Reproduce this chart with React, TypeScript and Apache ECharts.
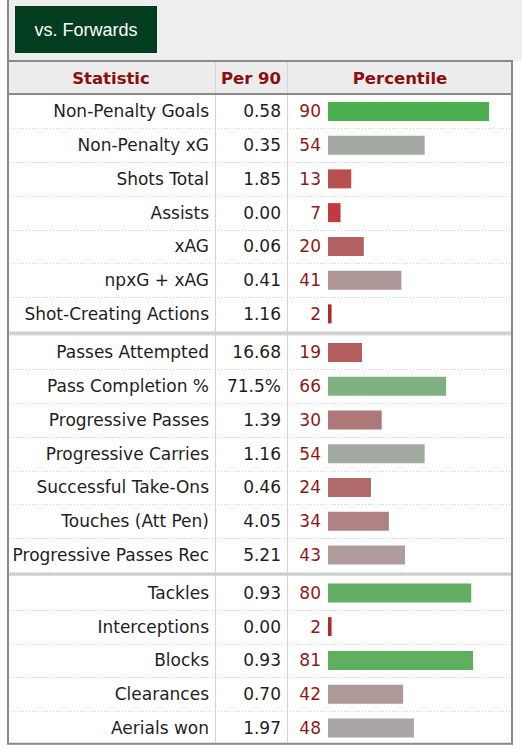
import React, { useEffect, useRef } from "react";
import * as echarts from "echarts";

// ---- data ----
const headers = ["Statistic", "Per 90", "Percentile"];
const buttonLabel = "vs. Forwards";

const shootingStats = ["Non-Penalty Goals", "Non-Penalty xG", "Shots Total", "Assists", "xAG", "npxG + xAG", "Shot-Creating Actions"];
const shootingPer90 = ["0.58", "0.35", "1.85", "0.00", "0.06", "0.41", "1.16"];
const shootingPct = [90, 54, 13, 7, 20, 41, 2];

const passingStats = ["Passes Attempted", "Pass Completion %", "Progressive Passes", "Progressive Carries", "Successful Take-Ons", "Touches (Att Pen)", "Progressive Passes Rec"];
const passingPer90 = ["16.68", "71.5%", "1.39", "1.16", "0.46", "4.05", "5.21"];
const passingPct = [19, 66, 30, 54, 24, 34, 43];

const defenseStats = ["Tackles", "Interceptions", "Blocks", "Clearances", "Aerials won"];
const defensePer90 = ["0.93", "0.00", "0.93", "0.70", "1.97"];
const defensePct = [80, 2, 81, 42, 48];

const groups = [
  { stats: shootingStats, per90: shootingPer90, pct: shootingPct },
  { stats: passingStats, per90: passingPer90, pct: passingPct },
  { stats: defenseStats, per90: defensePer90, pct: defensePct },
];

// ---- styles / layout ----
const FONT = "DejaVu Sans, Verdana, sans-serif";
const ROW_H = 33.75;
const GROUP_TOPS = [94.5, 335.5, 576];
const TABLE_L = 8;
const TABLE_R = 512;
const HEAD_T = 61;
const HEAD_B = 94;
const COL1 = 215;
const COL2 = 287;
const BAR_L = 328;
const BAR_W = 179;
const STAT_RIGHT = 209;
const PER90_RIGHT = 281;

const colorStops: [number, number[]][] = [
  [0, [168, 36, 36]],
  [7, [192, 60, 60]],
  [13, [185, 80, 80]],
  [20, [178, 96, 96]],
  [30, [175, 120, 120]],
  [43, [175, 155, 155]],
  [48, [170, 165, 165]],
  [54, [162, 170, 162]],
  [66, [128, 176, 128]],
  [80, [98, 174, 98]],
  [90, [76, 175, 80]],
  [100, [60, 170, 60]],
];

function pctColor(v: number): string {
  for (let i = 0; i < colorStops.length - 1; i++) {
    const [a, ca] = colorStops[i];
    const [b, cb] = colorStops[i + 1];
    if (v >= a && v <= b) {
      const t = b === a ? 0 : (v - a) / (b - a);
      const c = ca.map((x, k) => Math.round(x + (cb[k] - x) * t));
      return `rgb(${c[0]},${c[1]},${c[2]})`;
    }
  }
  return "#888";
}

export default function App() {
  const ref = useRef<HTMLDivElement>(null);

  useEffect(() => {
    if (!ref.current) return;
    const chart = echarts.init(ref.current, null, { renderer: "svg" });

    const grids: any[] = [];
    const xAxes: any[] = [];
    const yAxes: any[] = [];
    const perAxes: any[] = [];
    const series: any[] = [];
    const graphics: any[] = [];

    // backgrounds
    graphics.push({ type: "rect", z: 0, shape: { x: TABLE_L, y: 0, width: 522 - TABLE_L, height: HEAD_T }, style: { fill: "#eeeeee" } });
    graphics.push({ type: "rect", z: 0, shape: { x: TABLE_L, y: HEAD_T, width: TABLE_R - TABLE_L, height: HEAD_B - HEAD_T }, style: { fill: "#ececec" } });
    graphics.push({ type: "rect", z: 0, shape: { x: 15, y: 6, width: 142, height: 47 }, style: { fill: "#033d1f" } });
    graphics.push({ type: "text", z: 3, x: 86, y: 30, style: { text: buttonLabel, fill: "#ffffff", font: "18px 'Liberation Sans', Arial, sans-serif", align: "center", verticalAlign: "middle" } });

    const headX = [111, 251, 400];
    headers.forEach((h, i) => {
      graphics.push({ type: "text", z: 3, x: headX[i], y: 78, style: { text: h, fill: "#8b0f0f", font: `bold 16.5px ${FONT}`, align: "center", verticalAlign: "middle" } });
    });

    const bottom = GROUP_TOPS[2] + ROW_H * defenseStats.length;

    groups.forEach((g, gi) => {
      const top = GROUP_TOPS[gi];
      const n = g.stats.length;
      grids.push({ left: BAR_L, width: BAR_W, top, height: ROW_H * n });
      xAxes.push({ type: "value", gridIndex: gi, min: 0, max: 100, show: false });
      yAxes.push({
        type: "category",
        gridIndex: gi,
        position: "left",
        inverse: true,
        data: g.stats,
        axisLine: { show: false },
        axisTick: { show: false },
        axisLabel: { margin: BAR_L - STAT_RIGHT, fontSize: 17, color: "#1e1e1e", fontFamily: FONT },
      });
      perAxes.push({
        type: "category",
        gridIndex: gi,
        position: "left",
        inverse: true,
        data: g.per90,
        axisLine: { show: false },
        axisTick: { show: false },
        axisLabel: { margin: BAR_L - PER90_RIGHT, fontSize: 17, color: "#1e1e1e", fontFamily: FONT },
      });
      series.push({
        type: "bar",
        xAxisIndex: gi,
        yAxisIndex: gi,
        data: g.pct,
        barWidth: 19,
        itemStyle: { color: (p: any) => pctColor(p.value) },
        label: { show: true, position: "left", distance: 7, formatter: "{c}", color: "#8b1a1a", fontSize: 17, fontFamily: FONT },
      });
      // dotted row lines
      for (let i = 1; i < n; i++) {
        const y = Math.round(top + i * ROW_H) + 0.5;
        graphics.push({ type: "line", z: 1, shape: { x1: TABLE_L, y1: y, x2: TABLE_R, y2: y }, style: { stroke: "#cfcfcf", lineWidth: 1, lineDash: [1, 2] } });
      }
      // group separator
      if (gi < groups.length - 1) {
        const y0 = top + n * ROW_H;
        const y1 = GROUP_TOPS[gi + 1];
        graphics.push({ type: "rect", z: 1, shape: { x: TABLE_L, y: y0 + 0.5, width: TABLE_R - TABLE_L, height: y1 - y0 - 0.5 }, style: { fill: "#d9d9d9" } });
        graphics.push({ type: "line", z: 1, shape: { x1: TABLE_L, y1: (y0 + y1) / 2, x2: TABLE_R, y2: (y0 + y1) / 2 }, style: { stroke: "#c4c4c4", lineWidth: 2, lineDash: [1, 1] } });
      }
    });

    // column dividers
    [COL1, COL2].forEach((x) => {
      graphics.push({ type: "line", z: 1, shape: { x1: x + 0.5, y1: HEAD_T, x2: x + 0.5, y2: bottom }, style: { stroke: "#d4d4d4", lineWidth: 1 } });
    });
    // header borders
    graphics.push({ type: "line", z: 2, shape: { x1: TABLE_L, y1: HEAD_T, x2: TABLE_R + 1, y2: HEAD_T }, style: { stroke: "#8a8a8a", lineWidth: 2 } });
    graphics.push({ type: "line", z: 2, shape: { x1: TABLE_L, y1: HEAD_B, x2: TABLE_R + 1, y2: HEAD_B }, style: { stroke: "#8a8a8a", lineWidth: 2 } });
    // outer borders
    graphics.push({ type: "line", z: 2, shape: { x1: TABLE_L, y1: 0, x2: TABLE_L, y2: bottom }, style: { stroke: "#8a8a8a", lineWidth: 2 } });
    graphics.push({ type: "line", z: 2, shape: { x1: TABLE_R, y1: HEAD_T, x2: TABLE_R, y2: bottom }, style: { stroke: "#8a8a8a", lineWidth: 2 } });
    graphics.push({ type: "line", z: 2, shape: { x1: TABLE_L, y1: bottom - 1, x2: TABLE_R + 1, y2: bottom - 1 }, style: { stroke: "#8a8a8a", lineWidth: 2 } });

    chart.setOption({
      animation: false,
      backgroundColor: "#ffffff",
      grid: grids,
      xAxis: xAxes,
      yAxis: [...yAxes, ...perAxes],
      series,
      graphic: { elements: graphics },
    });

    return () => chart.dispose();
  }, []);

  return <div ref={ref} style={{ position: "fixed", left: 0, top: 0, width: 522, height: 750 }} />;
}
